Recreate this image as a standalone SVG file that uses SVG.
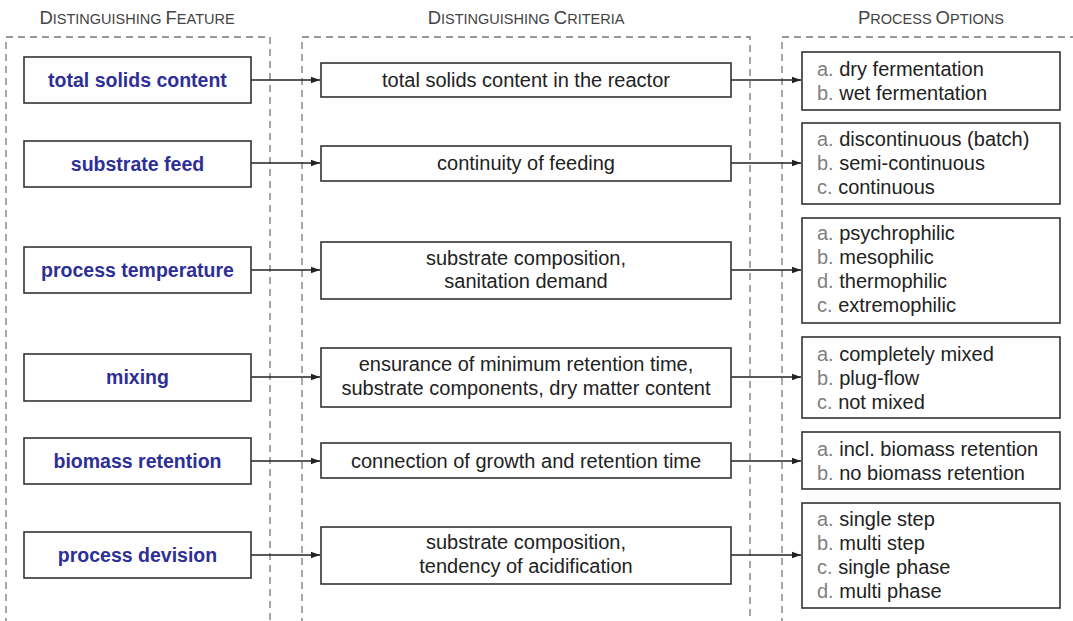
<svg xmlns="http://www.w3.org/2000/svg" width="1073" height="621" viewBox="0 0 1073 621">
<defs>
<marker id="ah" viewBox="0 0 10 10" refX="10" refY="5" markerWidth="9" markerHeight="9" markerUnits="userSpaceOnUse" orient="auto">
<path d="M0,1.5 L10,5 L0,8.5 z" fill="#222"/>
</marker>
<style>
.dash{fill:none;stroke:#777;stroke-width:1.3;stroke-dasharray:7,5}
.box{fill:#fff;stroke:#333;stroke-width:1.6}
.hd{font-family:"Liberation Sans",Arial,sans-serif;fill:#444;text-anchor:middle}
.big{font-size:18.5px}
.sm{font-size:14.5px}
.feat{font-family:"Liberation Sans",Arial,sans-serif;font-weight:bold;font-size:19.5px;fill:#2e2f96;text-anchor:middle}
.crit{font-family:"Liberation Sans",Arial,sans-serif;font-size:20px;fill:#222;text-anchor:middle}
.opt{font-family:"Liberation Sans",Arial,sans-serif;font-size:20px;fill:#222}
.let{fill:#808080}
.conn{stroke:#222;stroke-width:1.4;fill:none;marker-end:url(#ah)}
</style>
</defs>
<rect width="1073" height="621" fill="#fff"/>

<g id="headers">
<text class="hd" x="137" y="24"><tspan class="big">D</tspan><tspan class="sm">ISTINGUISHING </tspan><tspan class="big">F</tspan><tspan class="sm">EATURE</tspan></text>
<text class="hd" x="526" y="24"><tspan class="big">D</tspan><tspan class="sm">ISTINGUISHING </tspan><tspan class="big">C</tspan><tspan class="sm">RITERIA</tspan></text>
<text class="hd" x="931" y="24"><tspan class="big">P</tspan><tspan class="sm">ROCESS </tspan><tspan class="big">O</tspan><tspan class="sm">PTIONS</tspan></text>
</g>

<g id="containers">
<path class="dash" d="M6,625 V37 H270 V625"/>
<path class="dash" d="M302,625 V37 H750 V625"/>
<path class="dash" d="M782,625 V37 H1078"/>
</g>

<g id="connectors">
<line class="conn" x1="251" y1="80" x2="320" y2="80"/>
<line class="conn" x1="731" y1="80" x2="801" y2="80"/>
<line class="conn" x1="251" y1="163" x2="320" y2="163"/>
<line class="conn" x1="731" y1="163" x2="801" y2="163"/>
<line class="conn" x1="251" y1="270" x2="320" y2="270"/>
<line class="conn" x1="731" y1="270" x2="801" y2="270"/>
<line class="conn" x1="251" y1="377" x2="320" y2="377"/>
<line class="conn" x1="731" y1="377" x2="801" y2="377"/>
<line class="conn" x1="251" y1="461" x2="320" y2="461"/>
<line class="conn" x1="731" y1="461" x2="801" y2="461"/>
<line class="conn" x1="251" y1="555" x2="320" y2="555"/>
<line class="conn" x1="731" y1="555" x2="801" y2="555"/>
</g>

<g id="f1"><rect class="box" x="24" y="57" width="227" height="46"/><text class="feat" x="137.5" y="87">total solids content</text></g>
<g id="f2"><rect class="box" x="24" y="141" width="227" height="46"/><text class="feat" x="137.5" y="171">substrate feed</text></g>
<g id="f3"><rect class="box" x="24" y="247" width="227" height="46"/><text class="feat" x="137.5" y="277">process temperature</text></g>
<g id="f4"><rect class="box" x="24" y="354" width="227" height="47"/><text class="feat" x="137.5" y="384">mixing</text></g>
<g id="f5"><rect class="box" x="24" y="438" width="227" height="46"/><text class="feat" x="137.5" y="468">biomass retention</text></g>
<g id="f6"><rect class="box" x="24" y="532" width="227" height="46"/><text class="feat" x="137.5" y="562">process devision</text></g>

<g id="c1"><rect class="box" x="321" y="63" width="410" height="34"/><text class="crit" x="526" y="87">total solids content in the reactor</text></g>
<g id="c2"><rect class="box" x="321" y="146" width="410" height="35"/><text class="crit" x="526" y="170">continuity of feeding</text></g>
<g id="c3"><rect class="box" x="321" y="242" width="410" height="57"/><text class="crit" x="526" y="265">substrate composition,</text><text class="crit" x="526" y="288">sanitation demand</text></g>
<g id="c4"><rect class="box" x="321" y="348" width="410" height="59"/><text class="crit" x="526" y="371">ensurance of minimum retention time,</text><text class="crit" x="526" y="395">substrate components, dry matter content</text></g>
<g id="c5"><rect class="box" x="321" y="443" width="410" height="35"/><text class="crit" x="526" y="468">connection of growth and retention time</text></g>
<g id="c6"><rect class="box" x="321" y="527" width="410" height="57"/><text class="crit" x="526" y="549">substrate composition,</text><text class="crit" x="526" y="573">tendency of acidification</text></g>

<g id="o1"><rect class="box" x="802" y="52" width="258" height="58"/>
<text class="opt" x="817" y="76"><tspan class="let">a. </tspan>dry fermentation</text>
<text class="opt" x="817" y="100"><tspan class="let">b. </tspan>wet fermentation</text></g>
<g id="o2"><rect class="box" x="802" y="123" width="258" height="81"/>
<text class="opt" x="817" y="146"><tspan class="let">a. </tspan>discontinuous (batch)</text>
<text class="opt" x="817" y="170"><tspan class="let">b. </tspan>semi-continuous</text>
<text class="opt" x="817" y="194"><tspan class="let">c. </tspan>continuous</text></g>
<g id="o3"><rect class="box" x="802" y="218" width="258" height="105"/>
<text class="opt" x="817" y="240"><tspan class="let">a. </tspan>psychrophilic</text>
<text class="opt" x="817" y="264"><tspan class="let">b. </tspan>mesophilic</text>
<text class="opt" x="817" y="288"><tspan class="let">d. </tspan>thermophilic</text>
<text class="opt" x="817" y="312"><tspan class="let">c. </tspan>extremophilic</text></g>
<g id="o4"><rect class="box" x="802" y="337" width="258" height="81"/>
<text class="opt" x="817" y="361"><tspan class="let">a. </tspan>completely mixed</text>
<text class="opt" x="817" y="385"><tspan class="let">b. </tspan>plug-flow</text>
<text class="opt" x="817" y="409"><tspan class="let">c. </tspan>not mixed</text></g>
<g id="o5"><rect class="box" x="802" y="432" width="258" height="57"/>
<text class="opt" x="817" y="456"><tspan class="let">a. </tspan>incl. biomass retention</text>
<text class="opt" x="817" y="480"><tspan class="let">b. </tspan>no biomass retention</text></g>
<g id="o6"><rect class="box" x="802" y="503" width="258" height="105"/>
<text class="opt" x="817" y="526"><tspan class="let">a. </tspan>single step</text>
<text class="opt" x="817" y="550"><tspan class="let">b. </tspan>multi step</text>
<text class="opt" x="817" y="574"><tspan class="let">c. </tspan>single phase</text>
<text class="opt" x="817" y="598"><tspan class="let">d. </tspan>multi phase</text></g>
</svg>
